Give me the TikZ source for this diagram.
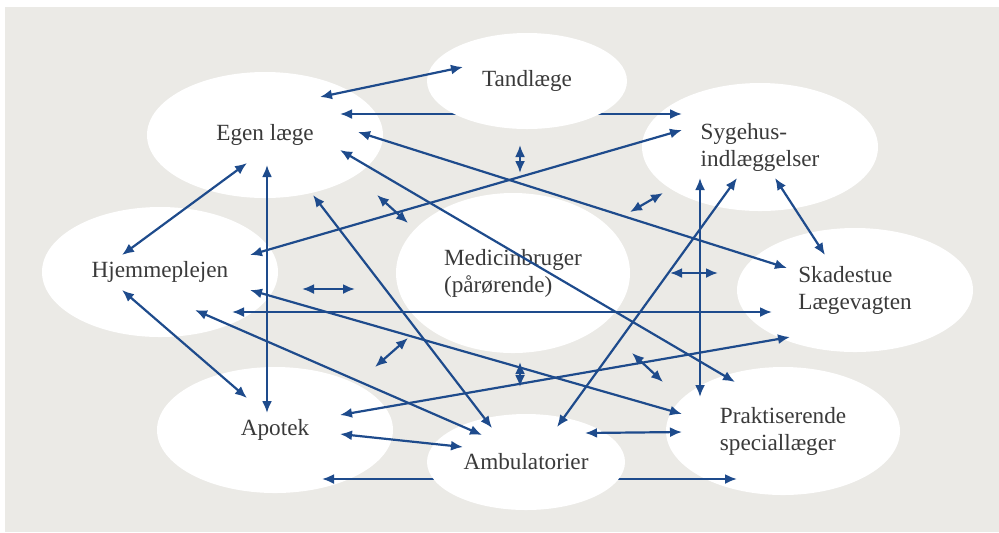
\documentclass[tikz,border=0pt]{standalone}
\usepackage{fontspec}
\setmainfont{Liberation Serif}
\usetikzlibrary{shapes.geometric,arrows.meta}
\definecolor{linkblue}{HTML}{1E4B8C}
\definecolor{panelgray}{HTML}{EBEAE6}
\definecolor{textgray}{HTML}{3A3A3A}

\begin{document}
\begin{tikzpicture}[x=0.5pt,y=-0.5pt,
    blob/.style={ellipse,fill=white,inner sep=0pt,minimum width=118pt,minimum height=63pt,
      align=left,text=textgray,font=\fontsize{11.6}{13.5}\selectfont},
    small/.style={minimum width=99pt,minimum height=48pt},
    link/.style={draw=linkblue,line width=1.1pt,{Latex[length=6pt,width=5pt]}-{Latex[length=6pt,width=5pt]}}]

  \useasboundingbox (0,0) rectangle (999,532);
  \fill[panelgray] (5,7) rectangle (999,532);

  % the places round the user
  \node[blob] (egen) at (265,135) {Egen læge};
  \node[blob,minimum height=64pt] (syge) at (760,147) {Sygehus-\\indlæggelser};
  \node[blob,minimum height=65pt] (hjem) at (160,272) {Hjemmeplejen};
  \node[blob,minimum width=117pt,minimum height=80pt] (med) at (513,273) {Medicinbruger\\(pårørende)};
  \node[blob,minimum height=62pt] (skade) at (855,290) {Skadestue\\Lægevagten};
  \node[blob] (apotek) at (275,430) {Apotek};
  \node[blob,minimum width=117pt,minimum height=64pt] (prakt) at (783,431) {Praktiserende\\speciallæger};

  % these two run behind Tandlæge and Ambulatorier
  \draw[link] ([shift={(75,-21)}]egen.center) -- ([shift={(-78,-33)}]syge.center);
  \draw[link] ([shift={(47,49)}]apotek.center) -- ([shift={(-46,48)}]prakt.center);

  \node[blob,small,minimum width=100pt] (tand) at (527,81) {Tandlæge};
  \node[blob,small] (ambu) at (526,462) {Ambulatorier};

  % long links
  \draw[link] ([shift={(55,-38)}]egen.center) -- ([shift={(-64,-14)}]tand.center);
  \draw[link] ([shift={(93,-3)}]egen.center) -- ([shift={(-68,-22)}]skade.center);
  \draw[link] ([shift={(75,15)}]egen.center) -- ([shift={(-48,-49)}]prakt.center);
  \draw[link] ([shift={(90,-17)}]hjem.center) -- ([shift={(-78,-17)}]syge.center);
  \draw[link] ([shift={(-18,28)}]egen.center) -- ([shift={(-38,-17)}]hjem.center);
  \draw[link] ([shift={(2,30)}]egen.center) -- ([shift={(-8,-17)}]apotek.center);
  \draw[link] ([shift={(48,60)}]egen.center) -- ([shift={(-34,-34)}]ambu.center);
  \draw[link] ([shift={(15,31)}]syge.center) -- ([shift={(-30,-35)}]skade.center);
  \draw[link] ([shift={(-23,31)}]syge.center) -- ([shift={(31,-35)}]ambu.center);
  \draw[link] ([shift={(-60,31)}]syge.center) -- ([shift={(-83,-34)}]prakt.center);
  \draw[link] ([shift={(72,40)}]hjem.center) -- ([shift={(-83,22)}]skade.center);
  \draw[link] ([shift={(90,18)}]hjem.center) -- ([shift={(-101,-17)}]prakt.center);
  \draw[link] ([shift={(35,38)}]hjem.center) -- ([shift={(-44,-27)}]ambu.center);
  \draw[link] ([shift={(-38,18)}]hjem.center) -- ([shift={(-28,-32)}]apotek.center);
  \draw[link] ([shift={(65,-15)}]apotek.center) -- ([shift={(-65,47)}]skade.center);
  \draw[link] ([shift={(65,4)}]apotek.center) -- ([shift={(-63,-15)}]ambu.center);
  \draw[link] ([shift={(59,-29)}]ambu.center) -- ([shift={(-101,1)}]prakt.center);

  % short links to the user
  \draw[link] ([shift={(112,60)}]egen.center) -- ([shift={(-105,-50)}]med.center);
  \draw[link] ([shift={(-7,64)}]tand.center) -- ([shift={(7,-100)}]med.center);
  \draw[link] ([shift={(-97,46)}]syge.center) -- ([shift={(117,-61)}]med.center);
  \draw[link] ([shift={(-137,-17)}]skade.center) -- ([shift={(157,0)}]med.center);
  \draw[link] ([shift={(142,17)}]hjem.center) -- ([shift={(-158,16)}]med.center);
  \draw[link] ([shift={(100,-63)}]apotek.center) -- ([shift={(-105,65)}]med.center);
  \draw[link] ([shift={(-6,-75)}]ambu.center) -- ([shift={(7,89)}]med.center);
  \draw[link] ([shift={(-120,-49)}]prakt.center) -- ([shift={(119,80)}]med.center);

\end{tikzpicture}
\end{document}
